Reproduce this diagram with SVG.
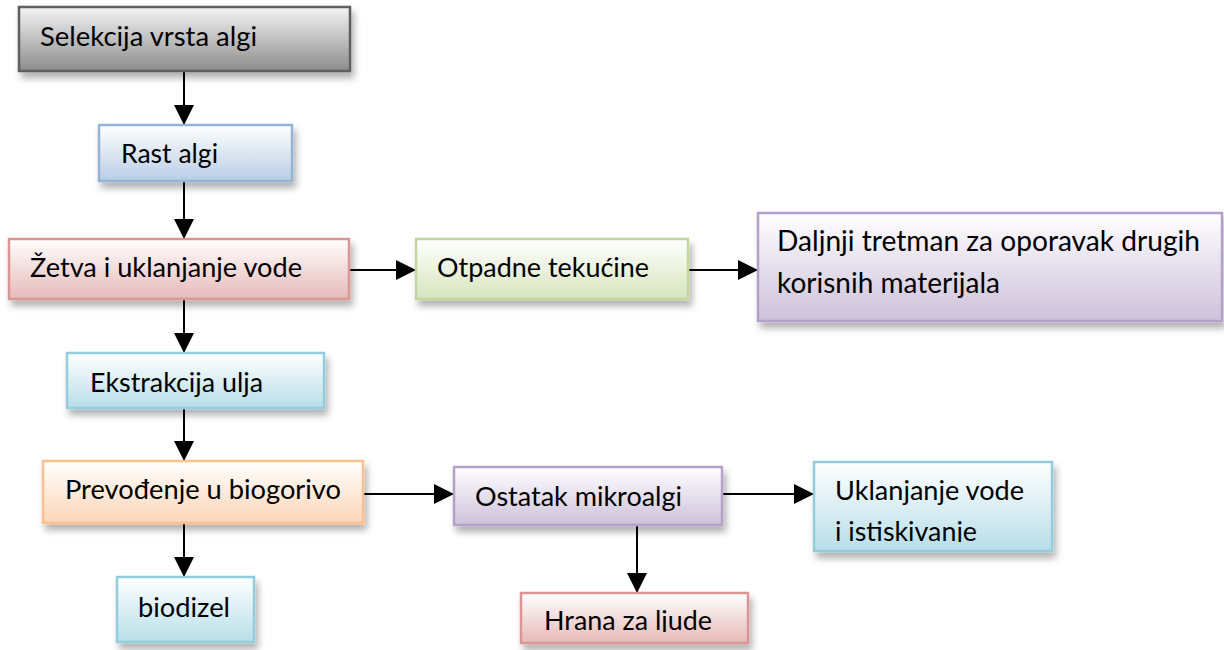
<svg xmlns="http://www.w3.org/2000/svg" width="1224" height="650" viewBox="0 0 1224 650">
<style>
text{font-family:Lato,"Open Sans","Liberation Sans",sans-serif;font-size:26.5px;fill:#000}
.big{font-size:29px}
.box{stroke-width:2.5;filter:url(#sh)}
.con line{stroke:#000;stroke-width:2}
</style>
<defs>
<filter id="sh" x="-10%" y="-20%" width="125%" height="160%">
<feDropShadow dx="3" dy="6" stdDeviation="3.5" flood-color="#000" flood-opacity="0.3"/>
</filter>
<linearGradient id="gGray" x1="0" y1="0" x2="0" y2="1"><stop offset="0" stop-color="#f4f4f4"/><stop offset="1" stop-color="#8c8c8c"/></linearGradient>
<linearGradient id="gBlue" x1="0" y1="0" x2="0" y2="1"><stop offset="0" stop-color="#ffffff"/><stop offset="1" stop-color="#b9cde5"/></linearGradient>
<linearGradient id="gRed" x1="0" y1="0" x2="0" y2="1"><stop offset="0" stop-color="#ffffff"/><stop offset="1" stop-color="#e6b9b8"/></linearGradient>
<linearGradient id="gGreen" x1="0" y1="0" x2="0" y2="1"><stop offset="0" stop-color="#ffffff"/><stop offset="1" stop-color="#d7e4bd"/></linearGradient>
<linearGradient id="gPurple" x1="0" y1="0" x2="0" y2="1"><stop offset="0" stop-color="#ffffff"/><stop offset="1" stop-color="#ccc1da"/></linearGradient>
<linearGradient id="gAqua" x1="0" y1="0" x2="0" y2="1"><stop offset="0" stop-color="#ffffff"/><stop offset="1" stop-color="#b7dee8"/></linearGradient>
<linearGradient id="gOrange" x1="0" y1="0" x2="0" y2="1"><stop offset="0" stop-color="#ffffff"/><stop offset="1" stop-color="#fcd5b5"/></linearGradient>
<marker id="ah" markerWidth="20" markerHeight="20" refX="20" refY="10" orient="auto" markerUnits="userSpaceOnUse">
<path d="M0,0 L20,10 L0,20 Z" fill="#000"/>
</marker>
<clipPath id="cUk"><rect x="814" y="462" width="240" height="80"/></clipPath>
<clipPath id="cHr"><rect x="521" y="593" width="228" height="39"/></clipPath>
</defs>

<g class="con">
<line x1="184" y1="71" x2="184" y2="125" marker-end="url(#ah)"/>
<line x1="184" y1="181" x2="184" y2="239" marker-end="url(#ah)"/>
<line x1="350" y1="270" x2="416" y2="270" marker-end="url(#ah)"/>
<line x1="689" y1="270" x2="758" y2="270" marker-end="url(#ah)"/>
<line x1="184" y1="299" x2="184" y2="353" marker-end="url(#ah)"/>
<line x1="184" y1="408" x2="184" y2="461" marker-end="url(#ah)"/>
<line x1="364" y1="494" x2="454" y2="494" marker-end="url(#ah)"/>
<line x1="723" y1="494" x2="814" y2="494" marker-end="url(#ah)"/>
<line x1="637" y1="525" x2="637" y2="593" marker-end="url(#ah)"/>
<line x1="184" y1="523" x2="184" y2="577" marker-end="url(#ah)"/>
</g>

<g id="n1"><rect class="box" x="19" y="7" width="331" height="64" fill="url(#gGray)" stroke="#5f5f5f"/><text x="40" y="46" textLength="217" lengthAdjust="spacingAndGlyphs">Selekcija vrsta algi</text></g>
<g id="n2"><rect class="box" x="99" y="125" width="193" height="56" fill="url(#gBlue)" stroke="#95b3d7"/><text x="121" y="163" textLength="97" lengthAdjust="spacingAndGlyphs">Rast algi</text></g>
<g id="n3"><rect class="box" x="9" y="239" width="340" height="60" fill="url(#gRed)" stroke="#d99694"/><text x="30" y="277" textLength="272" lengthAdjust="spacingAndGlyphs">Žetva i uklanjanje vode</text></g>
<g id="n4"><rect class="box" x="416" y="239" width="272" height="60" fill="url(#gGreen)" stroke="#c3d69b"/><text x="437" y="277" textLength="212" lengthAdjust="spacingAndGlyphs">Otpadne tekućine</text></g>
<g id="n5"><rect class="box" x="758" y="213" width="464" height="108" fill="url(#gPurple)" stroke="#b3a2c7"/><text class="big" x="777" y="251" textLength="423" lengthAdjust="spacingAndGlyphs">Daljnji tretman za oporavak drugih</text><text class="big" x="777" y="293" textLength="223" lengthAdjust="spacingAndGlyphs">korisnih materijala</text></g>
<g id="n6"><rect class="box" x="67" y="353" width="257" height="55" fill="url(#gAqua)" stroke="#93cddd"/><text x="90" y="392" textLength="173" lengthAdjust="spacingAndGlyphs">Ekstrakcija ulja</text></g>
<g id="n7"><rect class="box" x="43" y="461" width="320" height="62" fill="url(#gOrange)" stroke="#fac090"/><text x="65" y="499" textLength="276" lengthAdjust="spacingAndGlyphs">Prevođenje u biogorivo</text></g>
<g id="n8"><rect class="box" x="454" y="467" width="268" height="58" fill="url(#gPurple)" stroke="#b3a2c7"/><text x="475" y="506" textLength="207" lengthAdjust="spacingAndGlyphs">Ostatak mikroalgi</text></g>
<g id="n9"><rect class="box" x="814" y="462" width="238" height="89" fill="url(#gAqua)" stroke="#93cddd"/><g clip-path="url(#cUk)"><text x="835" y="500" textLength="189" lengthAdjust="spacingAndGlyphs">Uklanjanje vode</text><text x="835" y="541" textLength="142" lengthAdjust="spacingAndGlyphs">i istiskivanje</text></g></g>
<g id="n10"><rect class="box" x="521" y="593" width="227" height="50" fill="url(#gRed)" stroke="#d99694"/><g clip-path="url(#cHr)"><text x="544" y="630" textLength="168" lengthAdjust="spacingAndGlyphs">Hrana za ljude</text></g></g>
<g id="n11"><rect class="box" x="117" y="577" width="137" height="65" fill="url(#gAqua)" stroke="#93cddd"/><text x="138" y="617" textLength="92" lengthAdjust="spacingAndGlyphs">biodizel</text></g>
</svg>
